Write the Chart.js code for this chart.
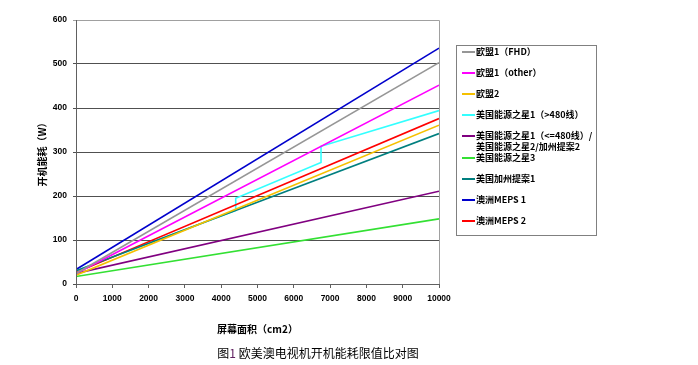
<!DOCTYPE html>
<html>
<head>
<meta charset="utf-8">
<script src="https://cdn.jsdelivr.net/npm/chart.js@4"></script>
<style>
  body { margin: 0; background: #fff; }
  #wrap { position: relative; width: 698px; height: 365px; }
  #legend {
    position: absolute; left: 456px; top: 45px; width: 139px; height: 189px;
    border: 1px solid #808080; font: bold 9px "Noto Sans CJK SC", sans-serif; color: #000;
  }
  .item { position: absolute; left: 19px; line-height: 11px; white-space: nowrap; }
  .swatch { position: absolute; left: -14px; top: 5px; width: 13px; height: 2px; }
  #caption {
    position: absolute; left: 0; width: 636px; top: 344px; text-align: center;
    font: 12px "Noto Sans CJK SC", sans-serif; color: #000;
  }
</style>
</head>
<body>
<div id="wrap">
  <canvas id="chart" width="698" height="365"></canvas>
  <div id="legend"></div>
  <div id="caption">图<span style="color:#602060">1</span> 欧美澳电视机开机能耗限值比对图</div>
</div>
<script>
// 屏幕面积 (cm2) 端点
const areaEnds = [0, 10000];
const starAreas = [0, 4400, 4400, 6750, 6750, 10000];
const yTicks = [0, 100, 200, 300, 400, 500, 600];

// 开机能耗 (W)
const euFhd = [24, 503];
const euOther = [24, 452];
const eu2 = [20, 361];
const star1Over480 = [30, 167, 195, 276, 313, 394];
const star1Under480 = [24, 211];
const star3 = [17, 148];
const california1 = [30, 342];
const meps1 = [33, 536];
const meps2 = [26, 376];

const seriesNames = [
  '欧盟1（FHD）',
  '欧盟1（other）',
  '欧盟2',
  '美国能源之星1（>480线）',
  '美国能源之星1（<=480线）/\n美国能源之星2/加州提案2',
  '美国能源之星3',
  '美国加州提案1',
  '澳洲MEPS 1',
  '澳洲MEPS 2'
];
const seriesColors = ['#969696', '#ff00ff', '#f5c000', '#33ffff', '#800080', '#33e033', '#007f7f', '#0000cc', '#ff0000'];
const seriesX = [areaEnds, areaEnds, areaEnds, starAreas, areaEnds, areaEnds, areaEnds, areaEnds, areaEnds];
const seriesY = [euFhd, euOther, eu2, star1Over480, star1Under480, star3, california1, meps1, meps2];

const datasets = seriesNames.map((name, i) => ({
  label: name,
  data: seriesY[i].map((v, j) => ({ x: seriesX[i][j], y: v })),
  borderColor: seriesColors[i],
  backgroundColor: seriesColors[i],
  borderWidth: 1.6,
  pointRadius: 0,
  showLine: true,
  fill: false,
  order: i === 3 ? 1 : 0
}));

const frame = {
  id: 'frame',
  afterDatasetsDraw(chart) {
    const { ctx, chartArea: a } = chart;
    ctx.save();
    ctx.strokeStyle = '#a0a0a0';
    ctx.lineWidth = 1;
    ctx.beginPath();
    ctx.moveTo(a.left, a.top + 0.5);
    ctx.lineTo(a.right + 0.5, a.top + 0.5);
    ctx.lineTo(a.right + 0.5, a.bottom);
    ctx.stroke();
    ctx.strokeStyle = '#606060';
    ctx.beginPath();
    ctx.moveTo(a.left + 0.5, a.top);
    ctx.lineTo(a.left + 0.5, a.bottom + 0.5);
    ctx.lineTo(a.right, a.bottom + 0.5);
    ctx.stroke();
    ctx.restore();
  }
};

const tickFont = { family: 'Liberation Sans, Arial', size: 8.5, weight: 'bold' };
const titleFont = { family: 'Noto Sans CJK SC', size: 10, weight: 'bold' };

const chart = new Chart(document.getElementById('chart'), {
  type: 'scatter',
  data: { datasets: datasets },
  options: {
    responsive: false,
    animation: false,
    layout: { padding: { left: 30, top: 20, right: 259, bottom: 30 } },
    plugins: { legend: { display: false }, tooltip: { enabled: false } },
    scales: {
      x: {
        type: 'linear',
        min: 0, max: 10000,
        afterFit(scale) { scale.height = 51; },
        ticks: { stepSize: 1000, color: '#000', font: tickFont, padding: 6, maxRotation: 0, callback: v => String(v) },
        grid: { drawOnChartArea: false, color: '#606060', tickLength: 4 },
        border: { display: false },
        title: { display: true, text: '屏幕面积（cm2）', color: '#000', font: titleFont, padding: { bottom: 0 } }
      },
      y: {
        min: 0, max: 600,
        afterFit(scale) { scale.width = 46; },
        afterBuildTicks(scale) { scale.ticks = yTicks.map(v => ({ value: v })); },
        ticks: { color: '#000', font: tickFont, padding: 6, callback: v => String(v) },
        grid: {
          color: ctx => (ctx.tick && ctx.tick.value === 600 ? '#a0a0a0' : '#505050'),
          tickLength: 3
        },
        border: { display: false },
        title: { display: true, text: '开机能耗（W）', color: '#000', font: titleFont, padding: { top: 6 } }
      }
    }
  },
  plugins: [frame]
});

// legend
const legend = document.getElementById('legend');
const itemTops = [0, 21, 42, 63, 84, 106, 127, 148, 169];
seriesNames.forEach((name, i) => {
  const item = document.createElement('div');
  item.className = 'item';
  item.style.top = itemTops[i] + 'px';
  const sw = document.createElement('span');
  sw.className = 'swatch';
  sw.style.background = seriesColors[i];
  item.appendChild(sw);
  name.split('\n').forEach((line, k) => {
    if (k > 0) item.appendChild(document.createElement('br'));
    item.appendChild(document.createTextNode(line));
  });
  legend.appendChild(item);
});
</script>
</body>
</html>
